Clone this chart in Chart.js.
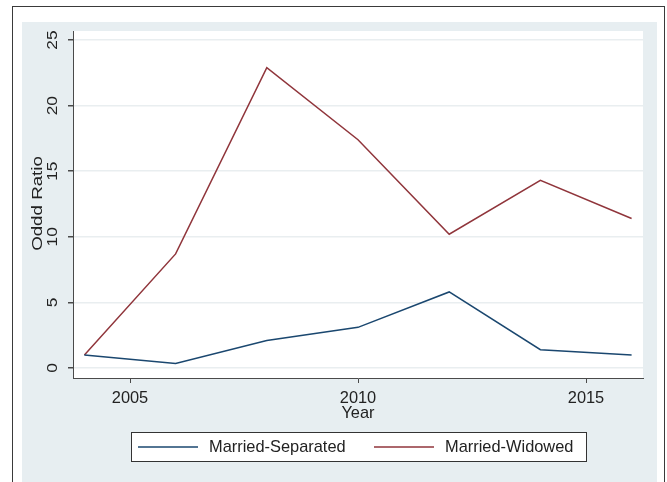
<!DOCTYPE html>
<html>
<head>
<meta charset="utf-8">
<script src="https://cdn.jsdelivr.net/npm/chart.js@4.4.0/dist/chart.umd.js"></script>
<style>
    html, body { margin: 0; padding: 0; background: #fff; }
    canvas { display: block; }
</style>
</head>
<body>
<canvas id="chart" width="667" height="482"></canvas>
<script>
// Survey years and odds ratios per marital-status contrast
const years = [2004, 2006, 2008, 2010, 2012, 2014, 2016];
const separated = [1.0, 0.35, 2.1, 3.1, 5.8, 1.4, 1.0];
const widowed = [1.0, 8.7, 22.9, 17.4, 10.2, 14.3, 11.4];
const seriesNames = ['Married-Separated', 'Married-Widowed'];
const xTicks = [2005, 2010, 2015];
const yTicks = [0, 5, 10, 15, 20, 25];
const yTitle = 'Oddd Ratio';

const FONT = '"Liberation Sans", Arial, sans-serif';
const TEXT = '#222';
const AXIS = '#4a4a4a';
const REGION = '#e7eef1';

// Graph region: white outer frame, light blue-grey region, white plot area
const backdrop = {
    id: 'backdrop',
    beforeDraw(chart) {
        const { ctx, chartArea: a } = chart;
        ctx.save();
        ctx.fillStyle = '#fff';
        ctx.fillRect(0, 0, chart.width, chart.height);
        ctx.fillStyle = REGION;
        ctx.fillRect(22, 22, 635, chart.height - 22);
        ctx.fillStyle = '#fff';
        ctx.fillRect(a.left, a.top, a.right - a.left, a.bottom - a.top);
        ctx.strokeStyle = '#3a3a3a';
        ctx.lineWidth = 1;
        ctx.strokeRect(12.5, 6.5, 652, chart.height + 10);
        ctx.restore();
    }
};

// draw text turned 90deg, stretched along its length and narrowed across it
function verticalText(ctx, text, x, y, size, sx, sy) {
    ctx.save();
    ctx.translate(x, y);
    ctx.rotate(-Math.PI / 2);
    ctx.scale(sx, sy);
    ctx.font = size + 'px ' + FONT;
    ctx.textAlign = 'center';
    ctx.textBaseline = 'middle';
    ctx.fillText(text, 0, 0);
    ctx.restore();
}

// Vertical y tick labels and y axis title
const yAxisText = {
    id: 'yAxisText',
    afterDraw(chart) {
        const { ctx, chartArea: a } = chart;
        const scale = chart.scales.y;
        ctx.save();
        ctx.fillStyle = TEXT;
        scale.ticks.forEach(t => {
            verticalText(ctx, String(t.value), 53, scale.getPixelForValue(t.value), 16, 1.08, 0.88);
        });
        verticalText(ctx, yTitle, 38.5, (a.top + a.bottom) / 2 - 1, 16, 1.17, 0.86);
        ctx.restore();
    }
};

// Boxed legend below the x axis title
const boxLegend = {
    id: 'boxLegend',
    afterDraw(chart) {
        const { ctx } = chart;
        ctx.save();
        ctx.fillStyle = '#fff';
        ctx.fillRect(131, 432, 455, 29);
        ctx.strokeStyle = '#333';
        ctx.lineWidth = 1;
        ctx.strokeRect(131.5, 432.5, 455, 29);
        const slots = [138, 374];
        const yMid = 447;
        ctx.font = '16.4px ' + FONT;
        ctx.textBaseline = 'middle';
        ctx.textAlign = 'left';
        chart.data.datasets.forEach((ds, i) => {
            const x0 = slots[i];
            ctx.strokeStyle = ds.borderColor;
            ctx.lineWidth = 1.5;
            ctx.beginPath();
            ctx.moveTo(x0, yMid);
            ctx.lineTo(x0 + 60, yMid);
            ctx.stroke();
            ctx.fillStyle = TEXT;
            ctx.fillText(ds.label, x0 + 71, yMid);
        });
        ctx.restore();
    }
};

const toPoints = vals => vals.map((v, i) => ({ x: years[i], y: v }));

new Chart(document.getElementById('chart'), {
    type: 'line',
    data: {
        datasets: [
            {
                label: seriesNames[0],
                data: toPoints(separated),
                borderColor: '#1a476f',
                borderWidth: 1.5,
                pointRadius: 0,
                tension: 0
            },
            {
                label: seriesNames[1],
                data: toPoints(widowed),
                borderColor: '#90353b',
                borderWidth: 1.5,
                pointRadius: 0,
                tension: 0
            }
        ]
    },
    options: {
        responsive: false,
        animation: false,
        devicePixelRatio: 1,
        layout: { padding: { left: 22, right: 24, top: 31, bottom: 0 } },
        plugins: {
            legend: { display: false },
            tooltip: { enabled: false }
        },
        scales: {
            x: {
                type: 'linear',
                min: 2003.75,
                max: 2016.25,
                afterBuildTicks: axis => { axis.ticks = xTicks.map(v => ({ value: v })); },
                afterFit: axis => { axis.height = 104; },
                grid: {
                    drawOnChartArea: false,
                    drawTicks: true,
                    tickLength: 5,
                    tickColor: AXIS
                },
                border: { color: AXIS, width: 1 },
                ticks: {
                    color: TEXT,
                    font: { family: FONT, size: 16.4 },
                    padding: 6,
                    maxRotation: 0,
                    callback: v => String(v)
                },
                title: {
                    display: true,
                    text: 'Year',
                    color: TEXT,
                    font: { family: FONT, size: 16.4 },
                    padding: { top: 0, bottom: 59 }
                }
            },
            y: {
                type: 'linear',
                min: -0.76,
                max: 25.69,
                afterBuildTicks: axis => { axis.ticks = yTicks.map(v => ({ value: v })); },
                afterFit: axis => { axis.width = 51; },
                grid: {
                    color: '#e9eef0',
                    lineWidth: 1.5,
                    drawTicks: true,
                    tickLength: 5,
                    tickColor: AXIS
                },
                border: { color: AXIS, width: 1 },
                ticks: { display: false }
            }
        }
    },
    plugins: [backdrop, yAxisText, boxLegend]
});
</script>
</body>
</html>
